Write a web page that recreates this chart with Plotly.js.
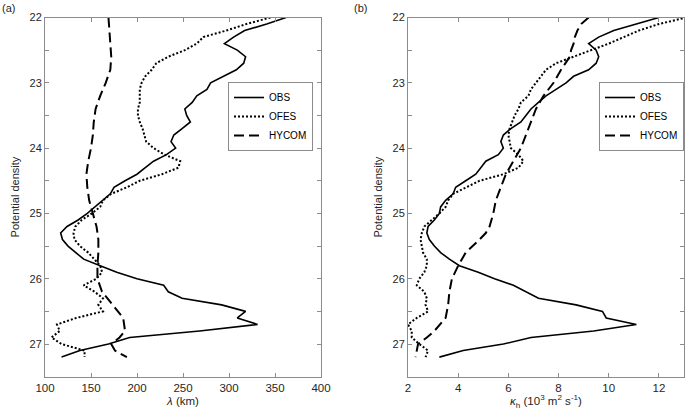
<!DOCTYPE html>
<html>
<head>
<meta charset="utf-8">
<script src="https://cdn.plot.ly/plotly-3.0.1.min.js"></script>
<style>html,body{margin:0;padding:0;background:#fff;}#chart{width:685px;height:415px;}</style>
</head>
<body>
<div id="chart"></div>
<script>
// Potential density levels
const density = [22.0,22.1,22.2,22.3,22.4,22.5,22.6,22.7,22.8,22.9,23.0,23.1,23.2,23.3,23.4,23.5,23.6,23.7,23.8,23.9,24.0,24.1,24.2,24.3,24.4,24.5,24.6,24.7,24.8,24.9,25.0,25.1,25.2,25.3,25.4,25.5,25.6,25.7,25.8,25.9,26.0,26.1,26.2,26.3,26.4,26.5,26.6,26.7,26.8,26.9,27.0,27.1,27.2];
const densityH = [22.0,22.2,22.4,22.6,22.8,23.0,23.2,23.4,23.6,23.8,24.0,24.2,24.4,24.6,24.8,25.0,25.2,25.4,25.6,25.8,26.0,26.2,26.4,26.6,26.8,26.9,27.0,27.1,27.2];
const densityHb = [22.0,22.1,22.2,22.3,22.4,22.5,22.6,22.8,23.0,23.2,23.4,23.6,23.8,24.0,24.2,24.4,24.6,24.8,25.0,25.2,25.3,25.4,25.6,25.8,26.0,26.2,26.4,26.6,26.8,26.9,27.0,27.2];

// (a) lambda (km)
const lambdaOBS = [362,341,317,305,295,309,318,316,308,294,280,276,265,260,252,254,258,249,240,237,242,232,218,209,200,187,175,171,163,154,146,136,124,117,119,125,133,142,160,178,200,229,234,249,292,318,309,331,268,192,169,138,118];
const lambdaOFES = [345,319,297,272,265,252,234,221,216,209,205,203,203,203,201,201,203,206,208,210,218,230,247,245,227,203,189,172,163,160,151,140,133,131,132,138,147,154,160,162,156,142,154,163,158,163,134,113,116,107,118,143,143];
const lambdaHYCOM = [169,170,171,172,171,166,160,155,153,152,150,147,145,146,148,152,156,158,158,157,157,162,174,185,187,181,172,176,189];

// (b) kappa_h (10^3 m^2 s^-1)
const kappaOBS = [12.0,11.1,10.2,9.6,9.2,9.5,9.6,9.5,9.2,8.6,8.3,7.9,7.5,7.2,6.9,6.7,6.5,6.1,5.8,5.7,5.8,5.6,5.1,4.9,4.7,4.3,3.9,3.8,3.5,3.3,3.25,3.05,2.8,2.75,2.85,3.05,3.3,3.65,4.05,4.8,5.45,6.2,6.7,7.2,8.7,9.75,9.9,11.1,9.4,6.9,5.8,4.2,3.25];
const kappaOFES = [13.1,12.0,11.2,10.6,10.0,9.3,8.6,7.9,7.5,7.3,7.1,6.9,6.8,6.5,6.4,6.25,6.15,6.05,6.0,6.05,6.1,6.4,6.6,6.4,5.8,4.85,4.3,3.8,3.6,3.5,3.25,2.95,2.65,2.55,2.5,2.55,2.6,2.75,2.75,2.65,2.45,2.35,2.65,2.75,2.7,2.8,2.35,2.0,2.15,2.15,2.45,2.8,2.7];
const kappaHYCOM = [9.2,8.9,8.75,8.65,8.6,8.5,8.45,8.1,7.8,7.4,7.1,6.9,6.7,6.5,6.2,5.9,5.7,5.5,5.4,5.25,5.1,4.85,4.3,4.0,3.75,3.65,3.6,3.5,3.05,2.75,2.4,2.3];

const names = ['OBS','OFES','HYCOM'];

const FONT = 'Liberation Sans, Arial, Helvetica, sans-serif';
const txt = '#262626';
const frame = '#8c8c8c';

const sOBS = {color:'#000', width:1.6, dash:'solid'};
const sOFES = {color:'#000', width:2, dash:'2px,2px'};
const sHY = {color:'#000', width:2, dash:'10px,5px'};

const traces = [
  {x:lambdaOBS, y:density, name:names[0], mode:'lines', line:sOBS, xaxis:'x', yaxis:'y', legend:'legend'},
  {x:lambdaOFES, y:density, name:names[1], mode:'lines', line:sOFES, xaxis:'x', yaxis:'y', legend:'legend'},
  {x:lambdaHYCOM, y:densityH, name:names[2], mode:'lines', line:sHY, xaxis:'x', yaxis:'y', legend:'legend'},
  {x:kappaOBS, y:density, name:names[0], mode:'lines', line:sOBS, xaxis:'x2', yaxis:'y2', legend:'legend2'},
  {x:kappaOFES, y:density, name:names[1], mode:'lines', line:sOFES, xaxis:'x2', yaxis:'y2', legend:'legend2'},
  {x:kappaHYCOM, y:densityHb, name:names[2], mode:'lines', line:sHY, xaxis:'x2', yaxis:'y2', legend:'legend2'}
];

const yDom = [1-376.7/415, 1-17.5/415];
function yax(anchor){
  return {
    domain:yDom, anchor:anchor, range:[27.5,22], autorange:false,
    tickvals:[22,23,24,25,26,27], ticktext:['22','23','24','25','26','27'],
    ticks:'inside', ticklen:4, tickcolor:frame, tickwidth:1,
    minor:{tickvals:[22.5,23.5,24.5,25.5,26.5], ticks:'inside', ticklen:4, tickcolor:frame},
    showline:true, linecolor:frame, linewidth:1, mirror:'ticks',
    showgrid:false, zeroline:false, automargin:false,
    tickfont:{family:FONT, size:11, color:txt},
    title:{text:'Potential density', font:{family:FONT, size:11, color:txt}, standoff:7}
  };
}
function xax(anchor, dom, range, dtick, title){
  return {
    domain:dom, anchor:anchor, range:range, autorange:false, dtick:dtick, tick0:range[0],
    ticks:'inside', ticklen:4, tickcolor:frame, tickwidth:1,
    showline:true, linecolor:frame, linewidth:1, mirror:'ticks',
    showgrid:false, zeroline:false, automargin:false,
    tickfont:{family:FONT, size:11.5, color:txt},
    title:{text:title, font:{family:FONT, size:11.5, color:txt}, standoff:4}
  };
}

const legendCommon = {
  bgcolor:'#fff', bordercolor:frame, borderwidth:1,
  font:{family:FONT, size:10, color:'#000'},
  xanchor:'right', yanchor:'top', tracegroupgap:0, itemwidth:30
};

const layout = {
  width:685, height:415,
  margin:{l:0, r:0, t:0, b:0},
  paper_bgcolor:'#fff', plot_bgcolor:'#fff',
  showlegend:true,
  xaxis: xax('y', [45/685, 321/685], [100,400], 50, '<i>λ</i> (km)'),
  yaxis: yax('x'),
  xaxis2: xax('y2', [408/685, 684/685], [2,13], 2, '<i>κ</i><sub>h</sub> (10<sup>3</sup> m<sup>2</sup> s<sup>-1</sup>)'),
  yaxis2: yax('x2'),
  legend: Object.assign({x:313/685, y:1-82/415}, legendCommon),
  legend2: Object.assign({x:684/685, y:1-82/415}, legendCommon),
  annotations:[
    {text:'(a)', x:0, y:1, xref:'paper', yref:'paper', xanchor:'left', yanchor:'top', showarrow:false, font:{family:FONT, size:11, color:txt}},
    {text:'(b)', x:352/685, y:1, xref:'paper', yref:'paper', xanchor:'left', yanchor:'top', showarrow:false, font:{family:FONT, size:11, color:txt}}
  ]
};

Plotly.newPlot('chart', traces, layout, {displayModeBar:false, staticPlot:true});
</script>
</body>
</html>
